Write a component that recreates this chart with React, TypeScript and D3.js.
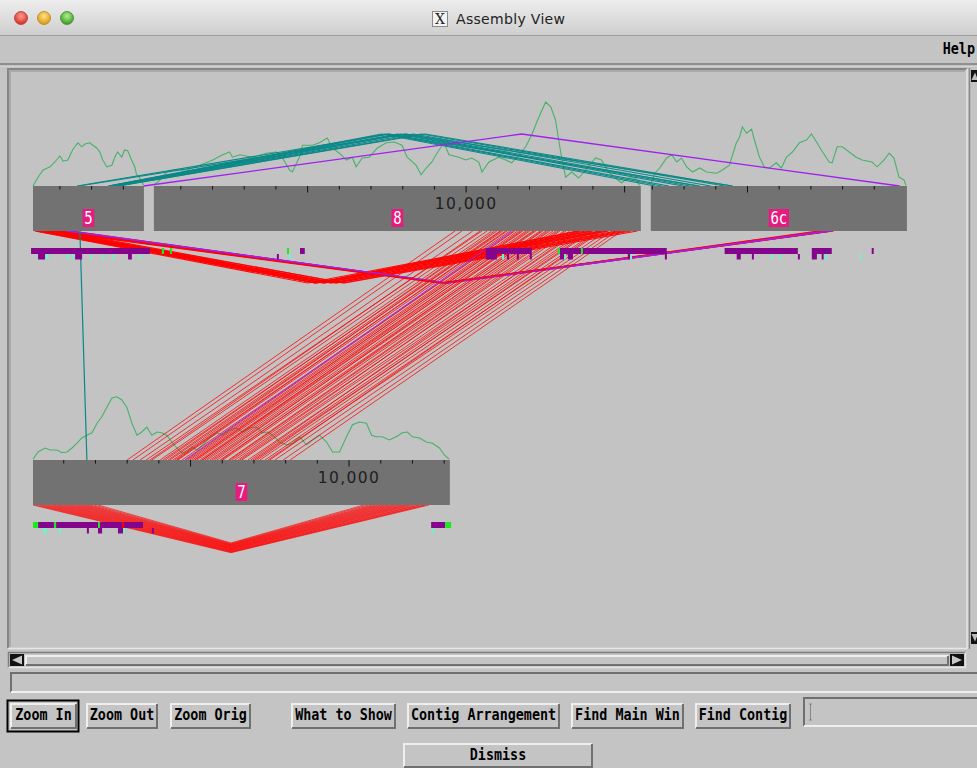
import React from "react";
import * as d3 from "d3";

// ---------- contigs (kb, padded consensus coordinates) ----------
const contigNames = ["5", "8", "6c", "7"];
const contigFirst = [0.151, 0.151, 1.95, 0.03];
const contigLast = [3.65, 15.51, 10.03, 13.18];
const contigRow = [0, 0, 0, 1];

// ---------- read depth along each contig: [kb, depth] ----------
const depth5: [number, number][] = [
  [0.15, 0], [0.31, 2.2], [0.47, 4], [0.69, 4.8], [0.84, 6], [1.0, 7.5], [1.1, 6.2], [1.25, 6.5],
  [1.41, 9.2], [1.57, 10.8], [1.69, 9.8], [1.79, 10.5], [1.94, 10.8], [2.04, 10.2], [2.16, 9.5],
  [2.26, 8.5], [2.35, 6.5], [2.48, 4.8], [2.64, 5.2], [2.73, 7.2], [2.82, 8.5], [2.95, 7.2],
  [3.04, 9], [3.14, 8.8], [3.26, 6.5], [3.36, 4.8], [3.42, 2.8], [3.52, 2], [3.64, 0.2],
];
const depth8: [number, number][] = [
  [0.15, 0.2], [0.34, 1.5], [0.56, 3.5], [0.75, 4], [1.19, 4], [1.6, 5.2], [2.01, 6.5], [2.32, 7.8],
  [2.54, 8.5], [2.63, 7.2], [2.86, 7.8], [3.26, 7.2], [3.7, 8.2], [4.02, 8.5], [4.21, 7], [4.43, 4],
  [4.52, 3.5], [4.74, 7.2], [4.84, 10.2], [5.15, 10.2], [5.37, 10.8], [5.62, 12], [5.78, 9.5],
  [6.0, 8.2], [6.22, 6.5], [6.41, 7.2], [6.53, 4.8], [6.72, 7], [6.94, 7.2], [7.2, 9.5], [7.48, 10.8],
  [7.73, 11], [7.98, 10.2], [8.14, 7.2], [8.42, 5.2], [8.58, 2.8], [8.74, 4.5], [8.92, 6], [9.08, 8.2],
  [9.3, 10.8], [9.46, 7.8], [9.77, 7.2], [9.99, 6.5], [10.18, 7], [10.4, 6], [10.5, 3.5], [10.72, 6],
  [11.03, 7.2], [11.25, 6.5], [11.44, 5.8], [11.66, 7.8], [11.88, 9.8], [12.07, 12.8], [12.23, 16],
  [12.35, 18.2], [12.51, 21], [12.67, 19.8], [12.82, 16.5], [12.92, 11.5], [13.01, 7.2], [13.14, 2.2],
  [13.33, 3.5], [13.55, 2], [13.77, 4], [14.08, 7], [14.27, 6.5], [14.49, 3.5], [14.71, 2], [14.9, 0.8],
  [15.12, 2], [15.34, 2], [15.47, 0.2],
];
const depth6c: [number, number][] = [
  [1.95, 0.5], [2.08, 3.2], [2.23, 4.5], [2.45, 7], [2.61, 7.8], [2.77, 6], [2.92, 7], [3.08, 4.8],
  [3.27, 3.5], [3.49, 4.5], [3.71, 3.5], [4.03, 3.2], [4.21, 4], [4.43, 5.2], [4.65, 10.8], [4.75, 12.2],
  [4.84, 14.8], [4.97, 13.2], [5.13, 14.2], [5.22, 11.5], [5.38, 7.2], [5.53, 4.8], [5.69, 4.5],
  [5.91, 5.8], [6.07, 4.5], [6.23, 7.2], [6.42, 8.5], [6.64, 10.8], [6.86, 11.5], [7.02, 13], [7.18, 11],
  [7.37, 8.5], [7.58, 6], [7.67, 5.8], [7.83, 9.8], [7.99, 9.8], [8.21, 8.5], [8.43, 7.2], [8.62, 6.5],
  [8.93, 6], [9.09, 4.8], [9.31, 6.5], [9.47, 8.2], [9.62, 7], [9.78, 2.2], [9.94, 1.5], [10.0, 0.2],
];
const depth7: [number, number][] = [
  [0.03, 0.2], [0.19, 2], [0.41, 3], [0.57, 2.5], [0.79, 2.5], [0.94, 1.8], [1.1, 2], [1.26, 3],
  [1.42, 4.2], [1.57, 5.5], [1.73, 6.2], [1.89, 6.8], [2.05, 9.2], [2.2, 10.8], [2.36, 13.2],
  [2.52, 15.5], [2.68, 15.8], [2.83, 15], [2.99, 13.2], [3.15, 9.2], [3.31, 6.2], [3.46, 7], [3.62, 8.2],
  [3.78, 6.2], [3.94, 7], [4.09, 6.8], [4.25, 6.2], [4.41, 4.5], [4.57, 3], [4.72, 1.8], [4.88, 2],
  [5.04, 3.2], [5.2, 2.5], [5.38, 3.8], [5.6, 5.5], [5.83, 6.8], [6.01, 6.2], [6.23, 7.5], [6.45, 8],
  [6.64, 7], [6.86, 8], [7.08, 8.2], [7.27, 6.8], [7.43, 7], [7.59, 6.2], [7.81, 4.5], [8.03, 3.8],
  [8.22, 4.2], [8.44, 5.8], [8.66, 3.8], [8.85, 5], [9.07, 6.2], [9.29, 4.5], [9.48, 2], [9.7, 2],
  [9.92, 5.8], [10.11, 8.8], [10.33, 9.5], [10.55, 9.2], [10.71, 6.2], [10.86, 5.8], [11.05, 5.8],
  [11.27, 5], [11.49, 5.8], [11.68, 6.8], [11.84, 7], [12.0, 5.8], [12.22, 5.5], [12.44, 4.5],
  [12.63, 4.2], [12.85, 3], [13.01, 1.2], [13.16, 0.2],
];
const depthByContig: Record<string, [number, number][]> = { "5": depth5, "8": depth8, "6c": depth6c, "7": depth7 };

// ---------- read pairs (kb on each end) ----------
const tealFrom5 = [1.54, 1.6, 2.52, 2.55, 2.58, 2.64, 2.67, 2.71, 2.77, 2.83, 2.86];
const tealTo6c = [3.5, 4.54, 2.08, 2.3, 2.52, 2.96, 3.18, 3.4, 3.84, 4.28, 4.5];
const violetFrom5Top = [3.64];
const violetTo6cTop = [9.8];
const red5to8From = [0.21, 0.31, 0.37, 0.44, 0.53, 0.59, 0.69, 0.75, 0.85, 0.91, 1.0, 0.24, 0.5, 0.78];
const red5to8To = [13.6, 14.0, 14.5, 15.2, 13.75, 14.3, 14.9, 15.4, 13.9, 14.45, 15.05, 14.2, 14.75, 13.5];
const red5to6cFrom = [0.62, 0.75, 0.88, 1.0, 1.13, 1.26, 1.38, 0.94];
const red5to6cTo = [7.6, 7.69, 7.53, 7.44, 7.63, 7.34, 7.22, 7.72];
const violet5to6cFrom = [1.19, 1.32];
const violet5to6cTo = [7.66, 7.47];
const red8to7From = [
  9.65, 9.87, 10.21, 10.44, 10.66, 10.81, 10.97, 11.07, 11.16, 11.29, 11.38, 11.54, 11.63, 11.7, 11.79,
  11.89, 12.01, 12.11, 12.2, 12.33, 12.42, 12.52, 12.64, 12.74, 12.83, 12.96, 13.09, 13.27, 13.43, 13.59,
  13.72, 13.81, 13.97, 14.13, 14.28, 14.44, 14.6, 14.76, 14.91,
  10.5, 10.9, 11.1, 11.25, 11.5, 11.75, 11.95, 12.15, 12.38, 12.58, 12.9, 13.15, 13.5, 13.9, 14.2,
];
const red8to7To = [
  3.0, 3.18, 3.41, 3.72, 3.78, 4.04, 4.13, 4.29, 4.35, 4.51, 4.6, 4.73, 4.92, 4.98, 5.05,
  5.14, 5.2, 5.3, 5.36, 5.52, 5.61, 5.68, 5.83, 5.93, 6.02, 6.24, 6.31, 6.4, 6.56, 6.62,
  6.81, 6.97, 7.03, 7.19, 7.35, 7.44, 7.66, 7.92, 8.14,
  3.6, 4.2, 4.45, 4.56, 4.86, 5.12, 5.38, 5.45, 5.75, 5.97, 6.2, 6.5, 6.9, 7.1, 7.5,
];
const violet8to7From = [11.44];
const violet8to7To = [4.82];
const red7From = [0.03, 0.12, 0.22, 0.31, 0.41, 0.5, 0.6, 0.69, 0.79, 0.88, 0.98, 1.07, 1.17, 1.26, 1.36, 1.45, 1.54, 1.64, 1.73, 1.83, 1.95, 2.08];
const red7To = [12.52, 12.43, 12.36, 12.24, 12.17, 12.05, 11.95, 11.86, 11.77, 11.67, 11.58, 11.48, 11.39, 11.29, 11.2, 11.1, 11.01, 10.91, 10.82, 10.72, 10.6, 10.47];
const tealFrom5Down = [1.63];
const tealTo7 = [1.73];

// ---------- tags: [contig, lane, startKb, endKb] ----------
type Tag = [string, number, number, number];
const purpleTags: Tag[] = [
  ["5", 0, 0.09, 3.84], ["5", 1, 0.31, 0.53], ["5", 1, 1.48, 1.7], ["5", 1, 3.15, 3.27],
  ["8", 1, 4.03, 4.09], ["8", 0, 4.76, 4.91], ["8", 0, 10.62, 12.07], ["8", 1, 10.62, 10.97],
  ["8", 1, 11.29, 11.33], ["8", 1, 11.6, 11.64], ["8", 1, 12.01, 12.05], ["8", 0, 12.9, 16.33],
  ["8", 1, 12.96, 13.09], ["8", 1, 13.21, 13.37], ["8", 1, 15.1, 15.17], ["8", 1, 16.27, 16.31],
  ["6c", 0, 4.28, 6.59], ["6c", 1, 4.66, 4.79], ["6c", 1, 5.14, 5.18], ["6c", 1, 6.59, 6.63],
  ["6c", 0, 7.03, 7.66], ["6c", 1, 7.03, 7.19], ["6c", 1, 7.34, 7.38], ["6c", 0, 8.92, 8.98],
  ["7", 0, 0.19, 3.5], ["7", 1, 1.73, 1.77], ["7", 1, 2.08, 2.21], ["7", 1, 2.71, 2.87],
  ["7", 1, 3.78, 3.82], ["7", 0, 12.59, 13.03],
];
const aquaTags: Tag[] = [
  ["5", 1, 0.56, 0.66], ["5", 1, 1.22, 1.29], ["5", 1, 1.38, 1.44], ["5", 1, 1.95, 2.01],
  ["5", 1, 2.33, 2.39], ["5", 1, 2.64, 2.71], ["5", 1, 3.5, 3.56],
  ["8", 1, 4.41, 4.47], ["8", 1, 11.13, 11.2], ["8", 1, 13.09, 13.15], ["8", 1, 15.17, 15.23],
  ["6c", 1, 5.74, 5.8], ["6c", 1, 6.02, 6.08], ["6c", 1, 7.44, 7.53], ["6c", 1, 8.54, 8.61],
  ["7", 1, 0.35, 0.47], ["7", 1, 0.85, 0.91], ["7", 1, 2.87, 2.9], ["7", 1, 12.62, 12.65],
];
const greenTags: Tag[] = [
  ["8", 0, 0.4, 0.47], ["8", 0, 0.66, 0.72], ["8", 0, 4.35, 4.41], ["8", 0, 12.9, 12.96],
  ["8", 0, 13.62, 13.68], ["7", 0, 0.03, 0.19], ["7", 0, 0.69, 0.76], ["7", 0, 2.08, 2.14],
  ["7", 0, 13.03, 13.22],
];
const redTags: Tag[] = [["7", 0, 2.84, 2.87]];

// ---------- buttons ----------
const buttonLabels = ["Zoom In", "Zoom Out", "Zoom Orig", "What to Show", "Contig Arrangement", "Find Main Win", "Find Contig"];
const buttonLefts = [10, 86, 170, 291, 407, 571, 695];
const buttonRights = [77, 158, 251, 396, 560, 684, 791];

// ---------- styling ----------
const BG = "#c4c4c4";
const CANVAS_BG = "#c3c3c3";
const BAR = "#727272";
const RED = "#ff0000";
const VIOLET = "#a020f0";
const TEAL = "#0a8888";
const COVER = "#47b26a";
const TAG_PURPLE = "#84048c";
const TAG_AQUA = "#74f0cc";
const TAG_GREEN = "#1ee81e";
const LABEL_PINK = "#e8197f";
const UI_FONT = "'DejaVu Sans Mono', monospace";

const ROW_TOP = [186, 460];
const BAR_H = 45;
const GAP_KB = 0.315;
const xKb = d3.scaleLinear().domain([0, 30]).range([33, 33 + 30 * 31.7]);
const depthPx = d3.scaleLinear().domain([0, 20]).range([0, 80]);

const contigOffset: number[] = [];
{
  const cursor = [0, 0];
  contigNames.forEach((_, i) => {
    const r = contigRow[i];
    contigOffset[i] = cursor[r] - contigFirst[i];
    cursor[r] += contigLast[i] - contigFirst[i] + GAP_KB;
  });
}
const ci = (name: string) => contigNames.indexOf(name);
const px = (name: string, kb: number) => xKb(contigOffset[ci(name)] + kb);

type Group = { color: string; from: string; to: string; a: number[]; b: number[]; side: "above" | "below"; w: number; op: number };
const pairGroups: Group[] = [
  { color: TEAL, from: "5", to: "6c", a: tealFrom5, b: tealTo6c, side: "above", w: 1.1, op: 1 },
  { color: VIOLET, from: "5", to: "6c", a: violetFrom5Top, b: violetTo6cTop, side: "above", w: 1.3, op: 1 },
  { color: RED, from: "5", to: "8", a: red5to8From, b: red5to8To, side: "below", w: 1.1, op: 0.95 },
  { color: RED, from: "5", to: "6c", a: red5to6cFrom, b: red5to6cTo, side: "below", w: 1.2, op: 0.95 },
  { color: VIOLET, from: "5", to: "6c", a: violet5to6cFrom, b: violet5to6cTo, side: "below", w: 1.2, op: 1 },
  { color: RED, from: "8", to: "7", a: red8to7From, b: red8to7To, side: "below", w: 0.85, op: 0.9 },
  { color: VIOLET, from: "8", to: "7", a: violet8to7From, b: violet8to7To, side: "below", w: 1, op: 1 },
  { color: RED, from: "7", to: "7", a: red7From, b: red7To, side: "below", w: 0.8, op: 0.85 },
  { color: TEAL, from: "5", to: "7", a: tealFrom5Down, b: tealTo7, side: "below", w: 1.2, op: 1 },
];

function pairPath(g: Group, a: number, b: number): string {
  const ra = contigRow[ci(g.from)];
  const rb = contigRow[ci(g.to)];
  const xa = px(g.from, a);
  const xb = px(g.to, b);
  if (ra === rb) {
    const span = Math.abs(xb - xa);
    const h = Math.min(52, 18 + 0.075 * span);
    const y0 = g.side === "above" ? ROW_TOP[ra] : ROW_TOP[ra] + BAR_H;
    const yA = g.side === "above" ? y0 - h : y0 + h;
    return `M${xa},${y0}L${(xa + xb) / 2},${yA}L${xb},${y0}`;
  }
  const [xt, xbtm, rt, rbm] = ra < rb ? [xa, xb, ra, rb] : [xb, xa, rb, ra];
  return `M${xt},${ROW_TOP[rt] + BAR_H}L${xbtm},${ROW_TOP[rbm]}`;
}

const depthLine = (name: string) => {
  const top = ROW_TOP[contigRow[ci(name)]];
  return d3
    .line<[number, number]>()
    .x((d) => px(name, d[0]))
    .y((d) => top - depthPx(d[1]))(depthByContig[name]) as string;
};

function Raised({ x, y, w, h, sunken = false }: { x: number; y: number; w: number; h: number; sunken?: boolean }) {
  const light = "#efefef";
  const dark = "#707070";
  return (
    <g>
      <rect x={x} y={y} width={w} height={h} fill={BG} />
      <path d={`M${x + 1},${y + h - 1}V${y + 1}H${x + w - 1}`} fill="none" stroke={sunken ? dark : light} strokeWidth={2} />
      <path d={`M${x + 1},${y + h - 1}H${x + w - 1}V${y + 1}`} fill="none" stroke={sunken ? light : dark} strokeWidth={2} />
    </g>
  );
}

function UiText({ x, y, text, anchor = "middle" }: { x: number; y: number; text: string; anchor?: string }) {
  return (
    <text
      transform={`translate(${x},${y}) scale(1,1.22)`}
      textAnchor={anchor}
      fontFamily={UI_FONT}
      fontWeight="bold"
      fontSize={13.4}
      fill="#000"
    >
      {text}
    </text>
  );
}

function TagMarks({ tags, color }: { tags: Tag[]; color: string }) {
  return (
    <g>
      {tags.map((t, i) => {
        const [c, lane, s, e] = t;
        const bottom = ROW_TOP[contigRow[ci(c)]] + BAR_H;
        const x0 = px(c, s);
        const w = Math.max(2, px(c, e) - x0);
        const y = bottom + (lane === 0 ? 17 : 23);
        const h = lane === 0 ? 6 : 5.5;
        return <rect key={i} x={x0} y={y} width={w} height={h} fill={color} />;
      })}
    </g>
  );
}

export default function App() {
  const fmt = d3.format(",");
  return (
    <svg
      width={977}
      height={768}
      viewBox="0 0 977 768"
      style={{ position: "absolute", left: 0, top: 0, display: "block" }}
    >
      <defs>
        <linearGradient id="titlebar" x1="0" y1="0" x2="0" y2="1">
          <stop offset="0" stopColor="#ededed" />
          <stop offset="1" stopColor="#cfcfcf" />
        </linearGradient>
        <radialGradient id="lampR" cx="0.5" cy="0.35" r="0.6">
          <stop offset="0" stopColor="#ff9d94" />
          <stop offset="1" stopColor="#d8332a" />
        </radialGradient>
        <radialGradient id="lampY" cx="0.5" cy="0.35" r="0.6">
          <stop offset="0" stopColor="#ffe48a" />
          <stop offset="1" stopColor="#dd9a12" />
        </radialGradient>
        <radialGradient id="lampG" cx="0.5" cy="0.35" r="0.6">
          <stop offset="0" stopColor="#b4f08c" />
          <stop offset="1" stopColor="#3c9e2a" />
        </radialGradient>
        <clipPath id="canvasClip">
          <rect x={11} y={72} width={954} height={574} />
        </clipPath>
      </defs>

      <rect x={0} y={0} width={977} height={768} fill={BG} />

      {/* title bar */}
      <rect x={0} y={0} width={977} height={35} fill="url(#titlebar)" />
      <line x1={0} x2={977} y1={35.5} y2={35.5} stroke="#9d9d9d" />
      <circle cx={21} cy={18} r={6.5} fill="url(#lampR)" stroke="#b03a33" strokeWidth={0.8} />
      <circle cx={44} cy={18} r={6.5} fill="url(#lampY)" stroke="#b58318" strokeWidth={0.8} />
      <circle cx={67} cy={18} r={6.5} fill="url(#lampG)" stroke="#3f8a2f" strokeWidth={0.8} />
      <rect x={432.5} y={11.5} width={15} height={15} fill="#f4f4f4" stroke="#8a8a8a" />
      <text x={440} y={24} textAnchor="middle" fontFamily="'DejaVu Serif', serif" fontSize={14} fill="#222">
        X
      </text>
      <text x={456} y={24} fontFamily="'DejaVu Sans', sans-serif" fontSize={14} fill="#222" textLength={109}>
        Assembly View
      </text>

      {/* menu bar */}
      <UiText x={975} y={54} text="Help" anchor="end" />
      <rect x={0} y={63} width={977} height={2.5} fill="#8e8e8e" />
      <rect x={0} y={65.5} width={977} height={1} fill="#dedede" />

      {/* canvas frame */}
      <rect x={7} y={68} width={961} height={581} fill={CANVAS_BG} />
      <path d="M8,648V69H967" fill="none" stroke="#858585" strokeWidth={2} />
      <path d="M10,647V71H965" fill="none" stroke="#a3a3a3" strokeWidth={1.5} />
      <path d="M8,648.5H967V69" fill="none" stroke="#e6e6e6" strokeWidth={1.5} />

      {/* vertical scrollbar */}
      <rect x={968} y={68} width={9} height={581} fill={BG} />
      <line x1={969.5} x2={969.5} y1={68} y2={649} stroke="#8a8a8a" strokeWidth={1.5} />
      <rect x={971} y={70} width={6} height={12} fill="#111" />
      <path d="M971.5,80L975,72.5L978,80Z" fill="#bdbdbd" />
      <rect x={971} y={632} width={6} height={12} fill="#111" />
      <path d="M971.5,634L975,641.5L978,634Z" fill="#bdbdbd" />

      {/* assembly drawing */}
      <g clipPath="url(#canvasClip)">
        {contigNames.map((n) => (
          <path key={`cov-${n}`} d={depthLine(n)} fill="none" stroke={COVER} strokeWidth={1.1} />
        ))}

        {pairGroups.map((g, gi) => (
          <g key={`grp-${gi}`} stroke={g.color} strokeWidth={g.w} fill="none" strokeOpacity={g.op}>
            {g.a.map((a, k) => (
              <path key={k} d={pairPath(g, a, g.b[k])} />
            ))}
          </g>
        ))}

        {contigNames.map((n, i) => {
          const top = ROW_TOP[contigRow[i]];
          const x0 = px(n, contigFirst[i]);
          const x1 = px(n, contigLast[i]);
          const ticks = d3.range(Math.ceil(contigFirst[i]), Math.floor(contigLast[i] - 0.08) + 1);
          const cx = (x0 + x1) / 2;
          const lw = n.length * 8.6 + 3;
          return (
            <g key={`contig-${n}`}>
              <rect x={x0} y={top} width={x1 - x0} height={BAR_H} fill={BAR} />
              {ticks.map((t) => (
                <line
                  key={t}
                  x1={px(n, t)}
                  x2={px(n, t)}
                  y1={top}
                  y2={top + (t % 5 === 0 ? 6.5 : 3.5)}
                  stroke="#111"
                  strokeWidth={1}
                />
              ))}
              {ticks
                .filter((t) => t % 10 === 0)
                .map((t) => (
                  <text
                    key={`lab-${t}`}
                    x={px(n, t)}
                    y={top + 22.5}
                    textAnchor="middle"
                    fontFamily="'DejaVu Sans', sans-serif"
                    fontSize={15.5}
                    letterSpacing={1.4}
                    fill="#1e1e1e"
                  >
                    {fmt(t * 1000)}
                  </text>
                ))}
              <rect x={cx - lw / 2} y={top + 23} width={lw} height={18} fill={LABEL_PINK} />
              <text
                transform={`translate(${cx},${top + 37.5}) scale(1,1.2)`}
                textAnchor="middle"
                fontFamily={UI_FONT}
                fontSize={14}
                fill="#fff"
              >
                {n}
              </text>
            </g>
          );
        })}

        <TagMarks tags={purpleTags} color={TAG_PURPLE} />
        <TagMarks tags={aquaTags} color={TAG_AQUA} />
        <TagMarks tags={greenTags} color={TAG_GREEN} />
        <TagMarks tags={redTags} color={RED} />
      </g>

      {/* horizontal scrollbar */}
      <rect x={8} y={652} width={958} height={16} fill={BG} />
      <path d="M8.5,667.5V652.5H965.5" fill="none" stroke="#7e7e7e" strokeWidth={1.5} />
      <path d="M8.5,667.5H965.5V652.5" fill="none" stroke="#e4e4e4" strokeWidth={1.5} />
      <Raised x={25} y={655} w={924} h={11} />
      <rect x={10} y={654} width={14} height={12} fill="#111" />
      <path d="M12,660L22,655.5V664.5Z" fill="#c8c8c8" />
      <rect x={950} y={654} width={14} height={12} fill="#111" />
      <path d="M962,660L952,655.5V664.5Z" fill="#c8c8c8" />

      {/* status line */}
      <Raised x={10} y={672} w={970} h={21} sunken />

      {/* command buttons */}
      <rect x={7.5} y={700.5} width={71} height={31} fill="none" stroke="#000" strokeWidth={2} />
      {buttonLabels.map((label, i) => (
        <g key={label}>
          <Raised x={buttonLefts[i]} y={703} w={buttonRights[i] - buttonLefts[i]} h={26} />
          <UiText x={(buttonLefts[i] + buttonRights[i]) / 2} y={720} text={label} />
        </g>
      ))}
      <Raised x={803} y={697} w={180} h={30} sunken />
      <path d="M809,704H812M810.5,704V720M809,720H812" stroke="#777" strokeWidth={0.8} fill="none" />

      <Raised x={403} y={743} w={190} h={25} />
      <UiText x={498} y={760} text="Dismiss" />
    </svg>
  );
}
